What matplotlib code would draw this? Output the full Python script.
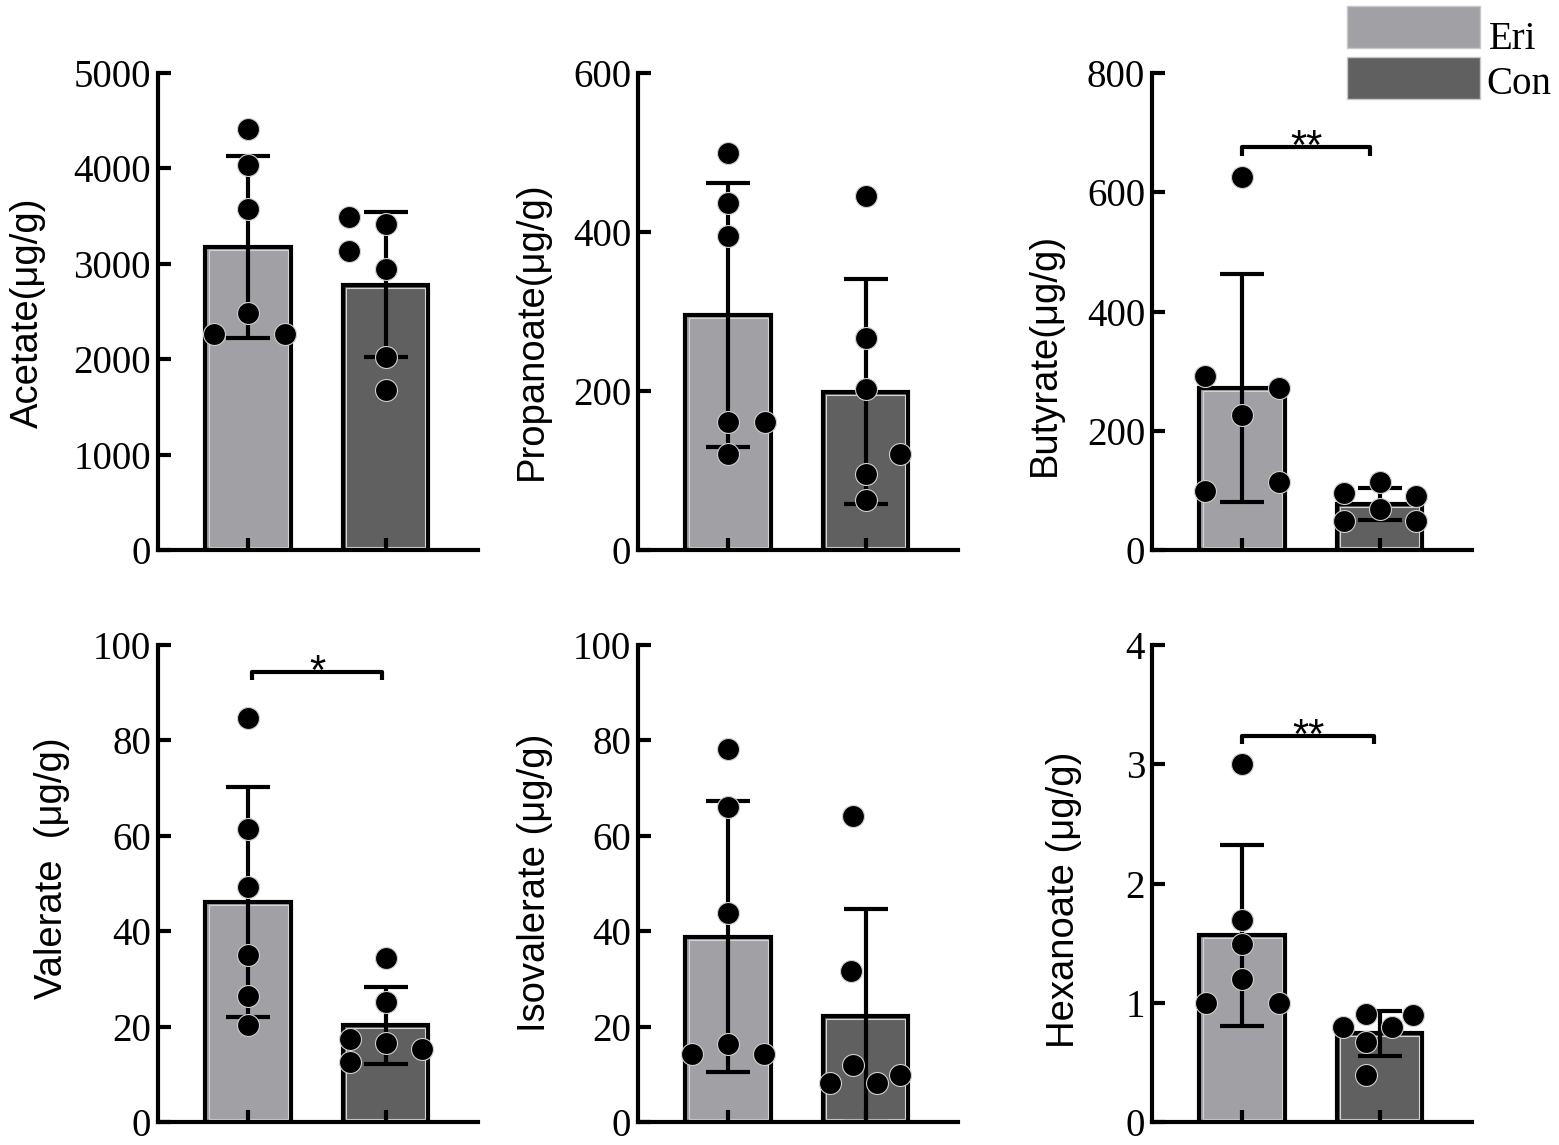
import matplotlib
matplotlib.use('Agg')
import matplotlib.pyplot as plt
import numpy as np
from matplotlib.patches import Rectangle

# ---- data (ug/g): 6 samples per group ----
groups = ['Eri', 'Con']
colors = ['#a1a1a5', '#606060']

acetate_eri = [4410, 4040, 3570, 2485, 2265, 2265]
acetate_con = [3495, 3135, 3420, 2950, 2020, 1675]
propanoate_eri = [499, 436, 395, 161, 161, 121]
propanoate_con = [445, 267, 202, 121, 96, 63]
butyrate_eri = [626, 291, 272, 227, 114, 99]
butyrate_con = [114, 96, 90, 68, 49, 49]
valerate_eri = [84.7, 61.5, 49.2, 35.0, 26.5, 20.3]
valerate_con = [34.3, 25.2, 16.5, 17.5, 15.4, 12.5]
isovalerate_eri = [78.2, 66.1, 43.9, 16.3, 14.2, 14.2]
isovalerate_con = [64.2, 31.6, 11.9, 8.2, 8.2, 9.8]
hexanoate_eri = [3.0, 1.695, 1.493, 1.198, 1.0, 1.0]
hexanoate_con = [0.797, 0.904, 0.895, 0.797, 0.671, 0.39]

# horizontal scatter of the dots around each bar centre
acetate_dx = ([0, 0, 0, 0, -0.25, 0.27], [-0.27, -0.27, 0, 0, 0, 0])
propanoate_dx = ([0, 0, 0, 0, 0.27, 0], [0, 0, 0, 0.25, 0, 0])
butyrate_dx = ([0, -0.27, 0.27, 0, 0.27, -0.27], [0, -0.26, 0.26, 0, -0.26, 0.26])
valerate_dx = ([0, 0, 0, 0, 0, 0], [0, 0, 0, -0.26, 0.26, -0.26])
isovalerate_dx = ([0, 0, 0, 0, -0.26, 0.26], [-0.09, -0.11, -0.09, -0.26, 0.08, 0.25])
hexanoate_dx = ([0, 0, 0, 0, -0.26, 0.27], [-0.27, -0.1, 0.24, 0.09, -0.1, -0.1])

labels = ['Acetate(μg/g)', 'Propanoate(μg/g)', 'Butyrate(μg/g)',
          'Valerate  (μg/g)', 'Isovalerate (μg/g)', 'Hexanoate (μg/g)']
ymax = [5000, 600, 800, 100, 100, 4]
ystep = [1000, 200, 200, 20, 20, 1]
# significance brackets: (height, x from, x to, stars)
signif = [None, None, (676, 0.0, 0.93, '**'),
          (94.4, 0.03, 0.97, '*'), None, (3.24, 0.0, 0.96, '**')]

panels = [
    (acetate_eri, acetate_con, acetate_dx),
    (propanoate_eri, propanoate_con, propanoate_dx),
    (butyrate_eri, butyrate_con, butyrate_dx),
    (valerate_eri, valerate_con, valerate_dx),
    (isovalerate_eri, isovalerate_con, isovalerate_dx),
    (hexanoate_eri, hexanoate_con, hexanoate_dx),
]

# ---- layout in pixels ----
W, H = 1559, 1145
col_left = [158, 638, 1152]
row_top = [73, 645]
ax_w, ax_h = 320, 477
# y-label anchor: right edge x, centre y
label_pos = [(46, 313), (550, 331), (1063, 354),
             (70, 868), (553, 883), (1082, 900)]

SERIF = 'Liberation Serif'
SANS = 'Liberation Sans'
BAR_W = 0.62

fig = plt.figure(figsize=(W / 100, H / 100), dpi=100)

for i, (eri, con, dx) in enumerate(panels):
    r, c = divmod(i, 3)
    left = col_left[c]
    top = row_top[r]
    ax = fig.add_axes([left / W, 1 - (top + ax_h) / H, ax_w / W, ax_h / H])
    ax.set_axisbelow(False)

    data = [np.array(eri), np.array(con)]
    means = [d.mean() for d in data]
    sds = [d.std(ddof=1) for d in data]
    x = np.arange(2)

    ax.bar(x, means, width=BAR_W, color=colors, edgecolor='black',
           linewidth=3, zorder=2)
    # thin light rim just inside the black outline
    inset_x = 0.022
    inset_y = ymax[i] * 3.0 / ax_h
    for k in range(2):
        ax.add_patch(Rectangle((x[k] - BAR_W / 2 + inset_x, inset_y),
                               BAR_W - 2 * inset_x, means[k] - 2 * inset_y,
                               fill=False, edgecolor='#d4d4d6', linewidth=0.8,
                               zorder=2.1))
    ax.errorbar(x, means, yerr=sds, fmt='none', ecolor='black',
                elinewidth=3, capsize=16, capthick=3, zorder=3)
    for k in range(2):
        ax.scatter(x[k] + np.array(dx[k]), data[k], s=250, color='black',
                   edgecolor='#d0d0d0', linewidth=0.8, zorder=4, clip_on=False)

    if signif[i] is not None:
        yb, x0, x1, stars = signif[i]
        drop = ymax[i] * 0.018
        ax.plot([x0, x0, x1, x1], [yb - drop, yb, yb, yb - drop],
                color='black', lw=3, solid_capstyle='butt', zorder=5)
        ax.annotate(stars, xy=((x0 + x1) / 2, yb), xytext=(0, -9),
                    textcoords='offset points', ha='center', va='baseline',
                    fontsize=30, family=SANS)

    ax.set_xlim(-0.655, 1.67)
    ax.set_ylim(0, ymax[i])
    ax.set_yticks(np.arange(0, ymax[i] + ystep[i] / 2, ystep[i]))
    ax.set_xticks(x)
    ax.set_xticklabels([])
    ax.yaxis.set_major_formatter(plt.FuncFormatter(lambda v, p: f'{v:g}'))
    ax.tick_params(axis='y', direction='in', length=9.5, width=3,
                   labelsize=28, pad=5)
    ax.tick_params(axis='x', direction='in', length=9, width=3)
    for lab in ax.get_yticklabels():
        lab.set_fontfamily(SERIF)
    ax.spines['top'].set_visible(False)
    ax.spines['right'].set_visible(False)
    ax.spines['left'].set_linewidth(3)
    ax.spines['bottom'].set_linewidth(3)

    lx, ly = label_pos[i]
    ax.set_ylabel(labels[i], fontsize=27.5, family=SANS)
    ax.yaxis.set_label_coords((lx - left) / ax_w, 1 - (ly - top) / ax_h)

# legend boxes at top right
for j, (g, col) in enumerate(zip(groups, colors)):
    y0, y1 = [(6, 48), (57, 99)][j]
    fig.patches.append(Rectangle((1347 / W, 1 - y1 / H), 133 / W, (y1 - y0) / H,
                                 transform=fig.transFigure, facecolor=col,
                                 edgecolor='#c8c8c8', linewidth=1))
    fig.text([1489, 1486][j] / W, 1 - [49, 94][j] / H, g, fontsize=28,
             family=SERIF, ha='left', va='baseline')

fig.savefig('out.png', dpi=100)
